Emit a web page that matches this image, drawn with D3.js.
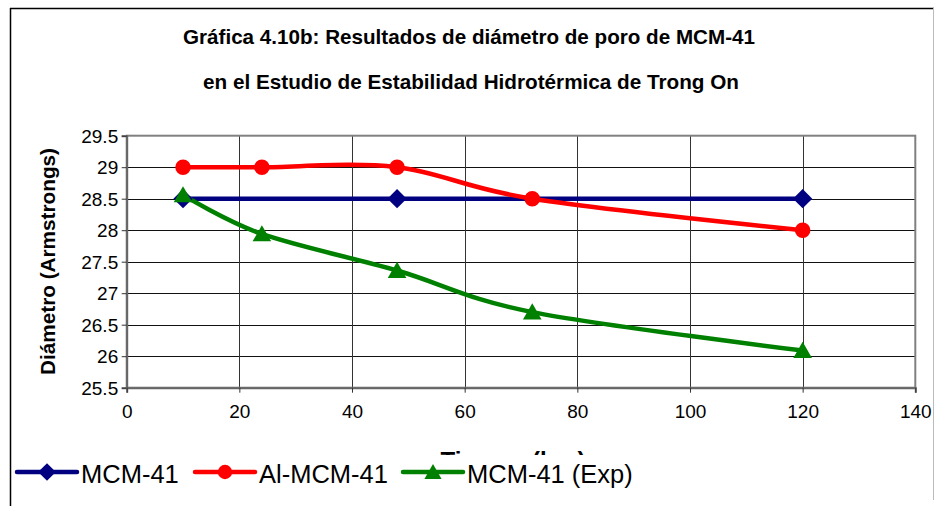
<!DOCTYPE html>
<html>
<head>
<meta charset="utf-8">
<script src="https://cdn.jsdelivr.net/npm/d3@7"></script>
<style>
  html, body { margin: 0; background: #fff; overflow: hidden; }
  svg { display: block; }
  text { font-family: "Liberation Sans", Arial, sans-serif; }
</style>
</head>
<body>
<div id="chart"></div>
<script>
// valores
const xMCM = [10, 48, 120],
    yMCM = [28.5, 28.5, 28.5];
const xAl = [10, 24, 48, 72, 120],
    yAl = [29, 29, 29, 28.5, 28];
const xExp = [10, 24, 48, 72, 120],
    yExp = [28.56, 27.94, 27.36, 26.7, 26.09];
const seriesNames = ["MCM-41", "Al-MCM-41", "MCM-41 (Exp)"];
const xTicks = [0, 20, 40, 60, 80, 100, 120, 140];
const yTicks = [25.5, 26, 26.5, 27, 27.5, 28, 28.5, 29, 29.5];
const titleLines = ["Gráfica 4.10b: Resultados de diámetro de poro de MCM-41",
    "en el Estudio de Estabilidad Hidrotérmica de Trong On"];

const W = 935, H = 506,
    plot = {left: 126.7, right: 915.3, top: 135.7, bottom: 387.7},
    colors = ["#000080", "#ff0000", "#008000"];

const svg = d3.select("#chart").append("svg")
    .attr("width", W)
    .attr("height", H);

const x = d3.scaleLinear().domain([0, 140]).range([plot.left, plot.right]);
const y = d3.scaleLinear().domain([25.5, 29.5]).range([plot.bottom, plot.top]);

// titulo
titleLines.forEach((t, i) => {
    svg.append("text")
        .attr("x", i == 0 ? 469 : 471)
        .attr("y", i == 0 ? 43.5 : 88.5)
        .attr("text-anchor", "middle")
        .attr("textLength", i == 0 ? 572 : 536)
        .attr("lengthAdjust", "spacingAndGlyphs")
        .style("font-size", "20.5px")
        .style("font-weight", "bold")
        .text(t);
});

// rejilla
svg.append("g").selectAll("line")
    .data(yTicks.slice(1, -1))
    .enter().append("line")
    .attr("x1", plot.left).attr("x2", plot.right)
    .attr("y1", d => Math.round(y(d)) + 0.5).attr("y2", d => Math.round(y(d)) + 0.5)
    .attr("stroke", "#111").attr("stroke-width", 1);

svg.append("g").selectAll("line")
    .data(xTicks.slice(1, -1))
    .enter().append("line")
    .attr("y1", plot.top).attr("y2", plot.bottom)
    .attr("x1", d => Math.round(x(d)) + 0.5).attr("x2", d => Math.round(x(d)) + 0.5)
    .attr("stroke", "#333").attr("stroke-width", 1);

// borde del area de trazado
svg.append("rect")
    .attr("x", plot.left).attr("y", plot.top)
    .attr("width", plot.right - plot.left).attr("height", plot.bottom - plot.top)
    .attr("fill", "none").attr("stroke", "#808080").attr("stroke-width", 2);

// ejes
const yAxis = d3.axisLeft(y).tickValues(yTicks).tickSize(5).tickFormat(d3.format("~g"));
svg.append("g")
    .attr("transform", "translate(" + plot.left + ",0)")
    .call(yAxis)
    .call(g => g.select(".domain").attr("stroke", "#666").attr("stroke-width", 2))
    .call(g => g.selectAll(".tick line").attr("stroke", "#333"))
    .call(g => g.selectAll("text")
        .attr("x", -8.5)
        .attr("dy", "0.35em")
        .style("font-size", "19px")
        .style("font-family", "Liberation Sans, Arial, sans-serif")
        .attr("fill", "#000"));

const xAxis = d3.axisBottom(x).tickValues(xTicks).tickSize(5);
svg.append("g")
    .attr("transform", "translate(0," + plot.bottom + ")")
    .call(xAxis)
    .call(g => g.select(".domain").attr("stroke", "#666").attr("stroke-width", 2))
    .call(g => g.selectAll(".tick line").attr("stroke", "#333"))
    .call(g => g.selectAll("text")
        .attr("y", 24)
        .attr("dy", "0.35em")
        .style("font-size", "19px")
        .style("font-family", "Liberation Sans, Arial, sans-serif")
        .attr("fill", "#000"));

// titulos de ejes
svg.append("text")
    .attr("transform", "translate(55," + 261.5 + ") rotate(-90)")
    .attr("text-anchor", "middle")
    .attr("textLength", 227)
    .attr("lengthAdjust", "spacingAndGlyphs")
    .style("font-size", "20.5px")
    .style("font-weight", "bold")
    .text("Diámetro (Armstrongs)");

svg.append("text")
    .attr("x", 513)
    .attr("y", 469)
    .attr("text-anchor", "middle")
    .style("font-size", "24px")
    .style("font-weight", "bold")
    .text("Tiempo (hrs)");

// series
const data = [
    xMCM.map((d, i) => ({x: d, y: yMCM[i]})),
    xAl.map((d, i) => ({x: d, y: yAl[i]})),
    xExp.map((d, i) => ({x: d, y: yExp[i]}))
];
const symbols = [d3.symbolSquare, d3.symbolCircle, d3.symbolTriangle],
    symSize = [185, 190, 150],
    symTf = [" rotate(45)", "", ""];

const line = d3.line()
    .x(d => x(d.x))
    .y(d => y(d.y))
    .curve(d3.curveCardinal.tension(0));

data.forEach((s, k) => {
    svg.append("path")
        .datum(s)
        .attr("d", line)
        .attr("fill", "none")
        .attr("stroke", colors[k])
        .attr("stroke-width", 4.5);
});
data.forEach((s, k) => {
    svg.append("g").selectAll("path")
        .data(s)
        .enter().append("path")
        .attr("transform", d => "translate(" + x(d.x) + "," + (y(d.y) + (k == 2 ? 2 : 0)) + ")" + symTf[k])
        .attr("d", d3.symbol().type(symbols[k]).size(symSize[k]))
        .attr("fill", colors[k]);
});

// leyenda (tapa parte del titulo del eje x)
const legend = svg.append("g");
legend.append("rect")
    .attr("x", 12).attr("y", 455).attr("width", 640).attr("height", 51)
    .attr("fill", "#fff");

const legX = [17, 195, 403];
seriesNames.forEach((n, k) => {
    const g = legend.append("g").attr("transform", "translate(" + legX[k] + ",472)");
    g.append("line")
        .attr("x1", 0).attr("x2", 60)
        .attr("stroke", colors[k]).attr("stroke-width", 4.5)
        .attr("stroke-linecap", "round");
    g.append("path")
        .attr("transform", "translate(30," + (k == 2 ? 2 : 0) + ")" + symTf[k])
        .attr("d", d3.symbol().type(symbols[k]).size(symSize[k] * 0.85))
        .attr("fill", colors[k]);
    g.append("text")
        .attr("x", 64)
        .attr("y", 11)
        .style("font-size", "25.5px")
        .text(n);
});

// marco exterior
svg.append("rect").attr("x", 11).attr("y", 490).attr("width", 922).attr("height", 16)
    .attr("fill", "#fff");
svg.append("line").attr("x1", 10.5).attr("x2", 10.5).attr("y1", 8).attr("y2", H)
    .attr("stroke", "#000").attr("stroke-width", 1.5);
svg.append("line").attr("x1", 10).attr("x2", 934).attr("y1", 8.5).attr("y2", 8.5)
    .attr("stroke", "#000").attr("stroke-width", 1.5);
svg.append("line").attr("x1", 933.5).attr("x2", 933.5).attr("y1", 8).attr("y2", 500)
    .attr("stroke", "#bbb").attr("stroke-width", 1);
</script>
</body>
</html>
